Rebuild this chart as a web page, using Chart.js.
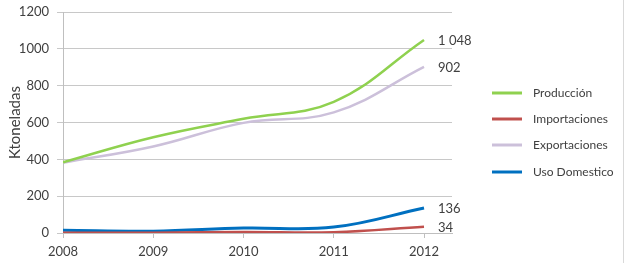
<!DOCTYPE html>
<html>
<head>
<meta charset="utf-8">
<script src="https://cdn.jsdelivr.net/npm/chart.js@4/dist/chart.umd.min.js"></script>
<style>
  html, body { margin: 0; padding: 0; background: #ffffff; }
  #wrap { width: 623px; height: 263px; border-right: 1px solid #d9d9d9; }
  canvas { display: block; }
</style>
</head>
<body>
<div id="wrap"><canvas id="c" width="623" height="263"></canvas></div>
<script>
const years = [2008, 2009, 2010, 2011, 2012];
const produccion = [384, 520, 620, 712, 1048];
const importaciones = [2, 2, 5, 4, 34];
const exportaciones = [382, 470, 598, 655, 902];
const usoDomestico = [15, 10, 27, 32, 136];
const seriesNames = ['Producción', 'Importaciones', 'Exportaciones', 'Uso Domestico'];
const seriesColors = ['#8fd14f', '#c0504d', '#ccc0da', '#0070c0'];
const yTicks = [0, 200, 400, 600, 800, 1000, 1200];
const yTitle = 'Ktoneladas';

const FONT = 'Lato, "Open Sans", sans-serif';
const TXT = '#404040';

function pts(arr) { return arr.map((v, i) => ({ x: years[i], y: v })); }

const endLabels = {
  id: 'endLabels',
  afterDatasetsDraw(chart) {
    const ctx = chart.ctx;
    ctx.save();
    ctx.font = '13px ' + FONT;
    ctx.fillStyle = TXT;
    ctx.textBaseline = 'middle';
    ctx.textAlign = 'left';
    chart.data.datasets.forEach((ds, i) => {
      const meta = chart.getDatasetMeta(i);
      const last = meta.data[meta.data.length - 1];
      const v = ds.data[ds.data.length - 1].y;
      const s = String(v).replace(/\B(?=(\d{3})+(?!\d))/g, ' ');
      ctx.fillText(s, last.x + 14, last.y + 1);
    });
    ctx.restore();
  }
};

const customLegend = {
  id: 'customLegend',
  afterDraw(chart) {
    const ctx = chart.ctx;
    const area = chart.chartArea;
    const x0 = area.right + 40;
    const ys = [93, 119, 145, 172];
    ctx.save();
    ctx.font = '12px ' + FONT;
    ctx.textBaseline = 'middle';
    ctx.textAlign = 'left';
    chart.data.datasets.forEach((ds, i) => {
      const y = ys[i];
      ctx.strokeStyle = ds.borderColor;
      ctx.lineWidth = 3;
      ctx.beginPath();
      ctx.moveTo(x0, y);
      ctx.lineTo(x0 + 30, y);
      ctx.stroke();
      ctx.fillStyle = TXT;
      ctx.fillText(ds.label, x0 + 41, y);
    });
    ctx.restore();
  }
};

const datasets = [produccion, importaciones, exportaciones, usoDomestico].map((arr, i) => ({
  label: seriesNames[i],
  data: pts(arr),
  borderColor: seriesColors[i],
  backgroundColor: seriesColors[i],
  borderWidth: i === 3 ? 3 : 2.5,
  pointRadius: 0,
  tension: 0.4,
  fill: false
}));

new Chart(document.getElementById('c'), {
  type: 'line',
  data: { datasets },
  options: {
    responsive: false,
    animation: false,
    layout: { padding: { left: 0, right: 171, top: 0, bottom: 0 } },
    plugins: { legend: { display: false }, tooltip: { enabled: false } },
    scales: {
      x: {
        type: 'linear',
        min: years[0],
        max: years[years.length - 1] + 0.31,
        afterBuildTicks(scale) { scale.ticks = years.map(v => ({ value: v })); },
        afterFit(scale) { scale.height = 30; },
        grid: { display: true, drawOnChartArea: false, drawTicks: true, tickLength: 5, color: '#bfbfbf' },
        border: { display: true, color: '#bfbfbf', width: 1 },
        ticks: { padding: 6, color: TXT, font: { family: FONT, size: 13 }, callback: v => String(v), maxRotation: 0 }
      },
      y: {
        min: 0,
        max: 1200,
        afterBuildTicks(scale) { scale.ticks = yTicks.map(v => ({ value: v })); },
        afterFit(scale) { scale.width = 63; scale.paddingTop = 12; },
        grid: { color: '#c8c8c8', tickLength: 6, lineWidth: 1 },
        border: { display: true, color: '#bfbfbf' },
        ticks: { padding: 8, color: TXT, font: { family: FONT, size: 13 }, callback: v => String(v) },
        title: { display: true, text: yTitle, color: TXT, font: { family: FONT, size: 15 }, padding: { top: 6, bottom: 0 } }
      }
    }
  },
  plugins: [endLabels, customLegend]
});
</script>
</body>
</html>
